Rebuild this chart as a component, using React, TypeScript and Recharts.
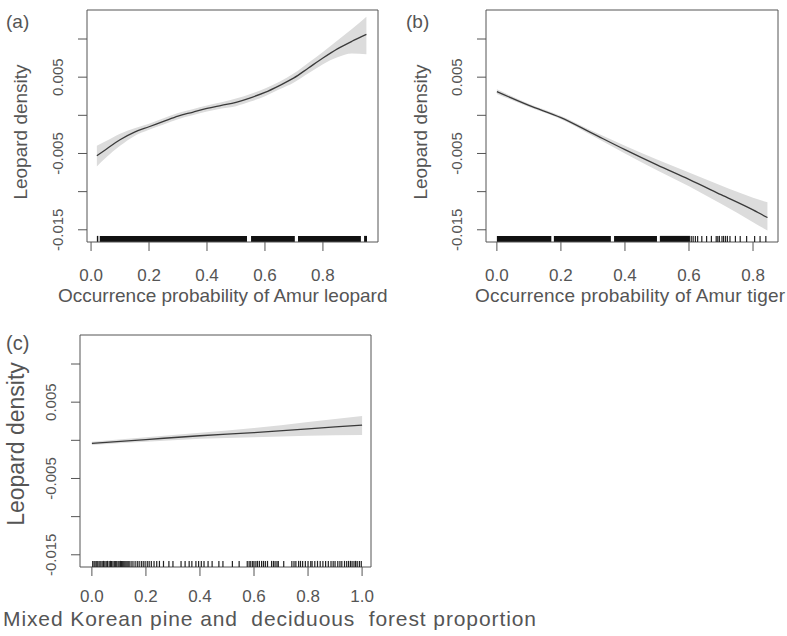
import { ComposedChart, Area, Line, XAxis, YAxis, ReferenceArea, ReferenceLine } from 'recharts'

// panel (a): occurrence probability of Amur leopard
const aX = [0.02, 0.05, 0.1, 0.15, 0.2, 0.25, 0.3, 0.35, 0.4, 0.45, 0.5, 0.55, 0.6, 0.65, 0.7, 0.75, 0.8, 0.85, 0.9, 0.95]
const aFit = [-0.0053, -0.0045, -0.0032, -0.0022, -0.0015, -0.0008, -0.0001, 0.0004, 0.0009, 0.0013, 0.0017, 0.0023, 0.003, 0.0039, 0.0049, 0.0062, 0.0075, 0.0087, 0.0097, 0.0106]
const aLo = [-0.0067, -0.0056, -0.004, -0.0027, -0.0019, -0.0012, -0.0005, 0.0, 0.0005, 0.0009, 0.0012, 0.0018, 0.0025, 0.0034, 0.0043, 0.0055, 0.0067, 0.0076, 0.0081, 0.008]
const aHi = [-0.004, -0.0034, -0.0024, -0.0017, -0.0011, -0.0004, 0.0003, 0.0008, 0.0013, 0.0017, 0.0022, 0.0028, 0.0035, 0.0044, 0.0055, 0.0069, 0.0083, 0.0098, 0.0113, 0.0129]
const aRugBlocks = [[0.02, 0.025], [0.03, 0.538], [0.552, 0.703], [0.714, 0.931], [0.942, 0.952]]
const aRugTicks: number[] = []

// panel (b): occurrence probability of Amur tiger
const bX = [0, 0.1, 0.2, 0.3, 0.4, 0.5, 0.6, 0.7, 0.8, 0.845]
const bFit = [0.0031, 0.0013, -0.0003, -0.0024, -0.0045, -0.0065, -0.0084, -0.0104, -0.0124, -0.0134]
const bLo = [0.0028, 0.0011, -0.0005, -0.0027, -0.005, -0.0072, -0.0093, -0.0116, -0.014, -0.0151]
const bHi = [0.0034, 0.0015, -0.0001, -0.0021, -0.004, -0.0058, -0.0075, -0.0092, -0.0108, -0.0114]
const bRugBlocks = [[0.0, 0.17], [0.178, 0.356], [0.366, 0.5], [0.509, 0.603]]
const bRugTicks = [0.607, 0.613, 0.62, 0.627, 0.64, 0.655, 0.67, 0.685, 0.69, 0.695, 0.703, 0.708, 0.714, 0.72, 0.728, 0.745, 0.76, 0.78, 0.805, 0.822, 0.84]

// panel (c): mixed Korean pine and deciduous forest proportion
const cX = [0, 0.2, 0.4, 0.6, 0.8, 1.0]
const cFit = [-0.0004, 0.0001, 0.0006, 0.001, 0.0015, 0.002]
const cLo = [-0.0006, -0.0002, 0.0002, 0.0004, 0.0006, 0.0007]
const cHi = [-0.0002, 0.0004, 0.001, 0.0016, 0.0024, 0.0032]
const cRugBlocks: number[][] = []
const cRugTicks = [
  0.003, 0.008, 0.012, 0.018, 0.022, 0.027, 0.033, 0.038, 0.043, 0.048, 0.053, 0.058, 0.064, 0.069, 0.073,
  0.078, 0.083, 0.088, 0.092, 0.097, 0.101, 0.106, 0.11, 0.114, 0.118, 0.122, 0.126, 0.13, 0.134, 0.138,
  0.145, 0.152, 0.16, 0.168, 0.175, 0.183, 0.19, 0.197, 0.205, 0.212, 0.22, 0.23, 0.24, 0.25,
  0.265, 0.285, 0.3, 0.33, 0.345, 0.36, 0.37, 0.385, 0.395, 0.405, 0.415, 0.43, 0.445,
  0.47, 0.485, 0.52, 0.545,
  0.575, 0.582, 0.588, 0.595, 0.6, 0.607, 0.613, 0.62, 0.628, 0.635, 0.642, 0.65, 0.665, 0.672, 0.678, 0.685, 0.69,
  0.71, 0.74, 0.748, 0.755, 0.765, 0.772, 0.78, 0.79, 0.8, 0.81, 0.815, 0.825, 0.835, 0.845, 0.855, 0.865, 0.875,
  0.885, 0.893, 0.9, 0.91, 0.918, 0.925, 0.935, 0.943, 0.95, 0.957, 0.963, 0.97, 0.976, 0.982, 0.99, 0.997,
]

const yTicks = [-0.015, -0.01, -0.005, 0, 0.005, 0.01]
const yLabelled = [-0.015, -0.005, 0.005]
const Y_DOMAIN: [number, number] = [-0.0166, 0.0138]
const RUG_H = 0.0008

const FONT = '"Liberation Sans", Arial, sans-serif'
const GREY = '#555'

function YTick({ x, y, payload }: any) {
  const v = payload.value
  if (!yLabelled.some((t) => Math.abs(t - v) < 1e-9)) return null
  return (
    <text x={x} y={y} transform={`rotate(-90 ${x} ${y})`} textAnchor="middle" fontSize={15} fill={GREY} fontFamily={FONT}>
      {String(v)}
    </text>
  )
}

interface PanelProps {
  xs: number[]
  fit: number[]
  lo: number[]
  hi: number[]
  rugBlocks: number[][]
  rugTicks: number[]
  xDomain: [number, number]
  xTicks: number[]
  width: number
  height: number
  margin: { top: number; right: number; left: number; bottom: number }
  yAxisWidth: number
  xAxisHeight: number
  xTickMargin: number
}

function Panel(p: PanelProps) {
  const data = p.xs.map((x, i) => ({ x, fit: p.fit[i], band: [p.lo[i], p.hi[i]] }))
  const yMin = Y_DOMAIN[0]
  return (
    <ComposedChart width={p.width} height={p.height} data={data} margin={p.margin}>
      <XAxis
        dataKey="x"
        type="number"
        domain={p.xDomain}
        ticks={p.xTicks}
        allowDataOverflow
        axisLine={false}
        tickSize={9}
        tickMargin={p.xTickMargin}
        height={p.xAxisHeight}
        tickLine={{ stroke: GREY }}
        tick={{ fontSize: 17, fill: GREY, fontFamily: FONT }}
        tickFormatter={(v: number) => v.toFixed(1)}
      />
      <YAxis
        type="number"
        domain={Y_DOMAIN}
        ticks={yTicks}
        allowDataOverflow
        axisLine={false}
        tickSize={9}
        tickMargin={15}
        width={p.yAxisWidth}
        tickLine={{ stroke: GREY }}
        tick={<YTick />}
      />
      <Area dataKey="band" type="monotone" stroke="none" fill="#dcdcdc" fillOpacity={1} isAnimationActive={false} />
      <Line dataKey="fit" type="monotone" stroke="#3a3a3a" strokeWidth={1.3} dot={false} isAnimationActive={false} />
      {p.rugBlocks.map((r, i) => (
        <ReferenceArea key={'rb' + i} x1={r[0]} x2={r[1]} y1={yMin} y2={yMin + RUG_H} fill="#111" fillOpacity={1} stroke="none" />
      ))}
      {p.rugTicks.map((v, i) => (
        <ReferenceLine
          key={'rt' + i}
          segment={[{ x: v, y: yMin }, { x: v, y: yMin + RUG_H }]}
          stroke="#222"
          strokeWidth={1.2}
        />
      ))}
      <ReferenceArea
        x1={p.xDomain[0]}
        x2={p.xDomain[1]}
        y1={Y_DOMAIN[0]}
        y2={Y_DOMAIN[1]}
        fill="none"
        stroke={GREY}
        strokeWidth={1}
        ifOverflow="visible"
      />
    </ComposedChart>
  )
}

export default function App() {
  const titleStyle = { fill: GREY, fontFamily: FONT }
  return (
    <div style={{ position: 'absolute', left: 0, top: 0, width: 787, height: 636, background: '#fff' }}>
      <div style={{ position: 'absolute', left: 0, top: 0 }}>
        <Panel
          xs={aX} fit={aFit} lo={aLo} hi={aHi} rugBlocks={aRugBlocks} rugTicks={aRugTicks}
          xDomain={[-0.014, 0.99]} xTicks={[0, 0.2, 0.4, 0.6, 0.8]}
          width={400} height={310} margin={{ top: 10, right: 22, left: 0, bottom: 0 }}
          yAxisWidth={87} xAxisHeight={68} xTickMargin={18}
        />
      </div>
      <div style={{ position: 'absolute', left: 400, top: 0 }}>
        <Panel
          xs={bX} fit={bFit} lo={bLo} hi={bHi} rugBlocks={bRugBlocks} rugTicks={bRugTicks}
          xDomain={[-0.034, 0.878]} xTicks={[0, 0.2, 0.4, 0.6, 0.8]}
          width={387} height={310} margin={{ top: 10, right: 9, left: 0, bottom: 0 }}
          yAxisWidth={86} xAxisHeight={68} xTickMargin={18}
        />
      </div>
      <div style={{ position: 'absolute', left: 0, top: 320 }}>
        <Panel
          xs={cX} fit={cFit} lo={cLo} hi={cHi} rugBlocks={cRugBlocks} rugTicks={cRugTicks}
          xDomain={[-0.044, 1.033]} xTicks={[0, 0.2, 0.4, 0.6, 0.8, 1.0]}
          width={400} height={316} margin={{ top: 15, right: 29, left: 0, bottom: 0 }}
          yAxisWidth={80} xAxisHeight={69} xTickMargin={14}
        />
      </div>
      <svg width={787} height={636} style={{ position: 'absolute', left: 0, top: 0, pointerEvents: 'none' }}>
        <text x={6} y={28} fontSize={19} {...titleStyle}>(a)</text>
        <text x={406} y={28} fontSize={19} {...titleStyle}>(b)</text>
        <text x={6} y={350} fontSize={20} {...titleStyle}>(c)</text>
        <text x={27} y={132} fontSize={19} textAnchor="middle" transform="rotate(-90 27 132)" {...titleStyle}>Leopard density</text>
        <text x={427} y={132} fontSize={19} textAnchor="middle" transform="rotate(-90 427 132)" {...titleStyle}>Leopard density</text>
        <text x={24} y={444} fontSize={23} textAnchor="middle" transform="rotate(-90 24 444)" {...titleStyle}>Leopard density</text>
        <text x={58} y={302} fontSize={19} {...titleStyle}>Occurrence probability of Amur leopard</text>
        <text x={475} y={302} fontSize={19} letterSpacing={0.2} {...titleStyle}>Occurrence probability of Amur tiger</text>
        <text x={3} y={626} fontSize={21} letterSpacing={0.9} {...titleStyle} style={{ whiteSpace: 'pre' }}>Mixed Korean pine and  deciduous  forest proportion</text>
      </svg>
    </div>
  )
}
